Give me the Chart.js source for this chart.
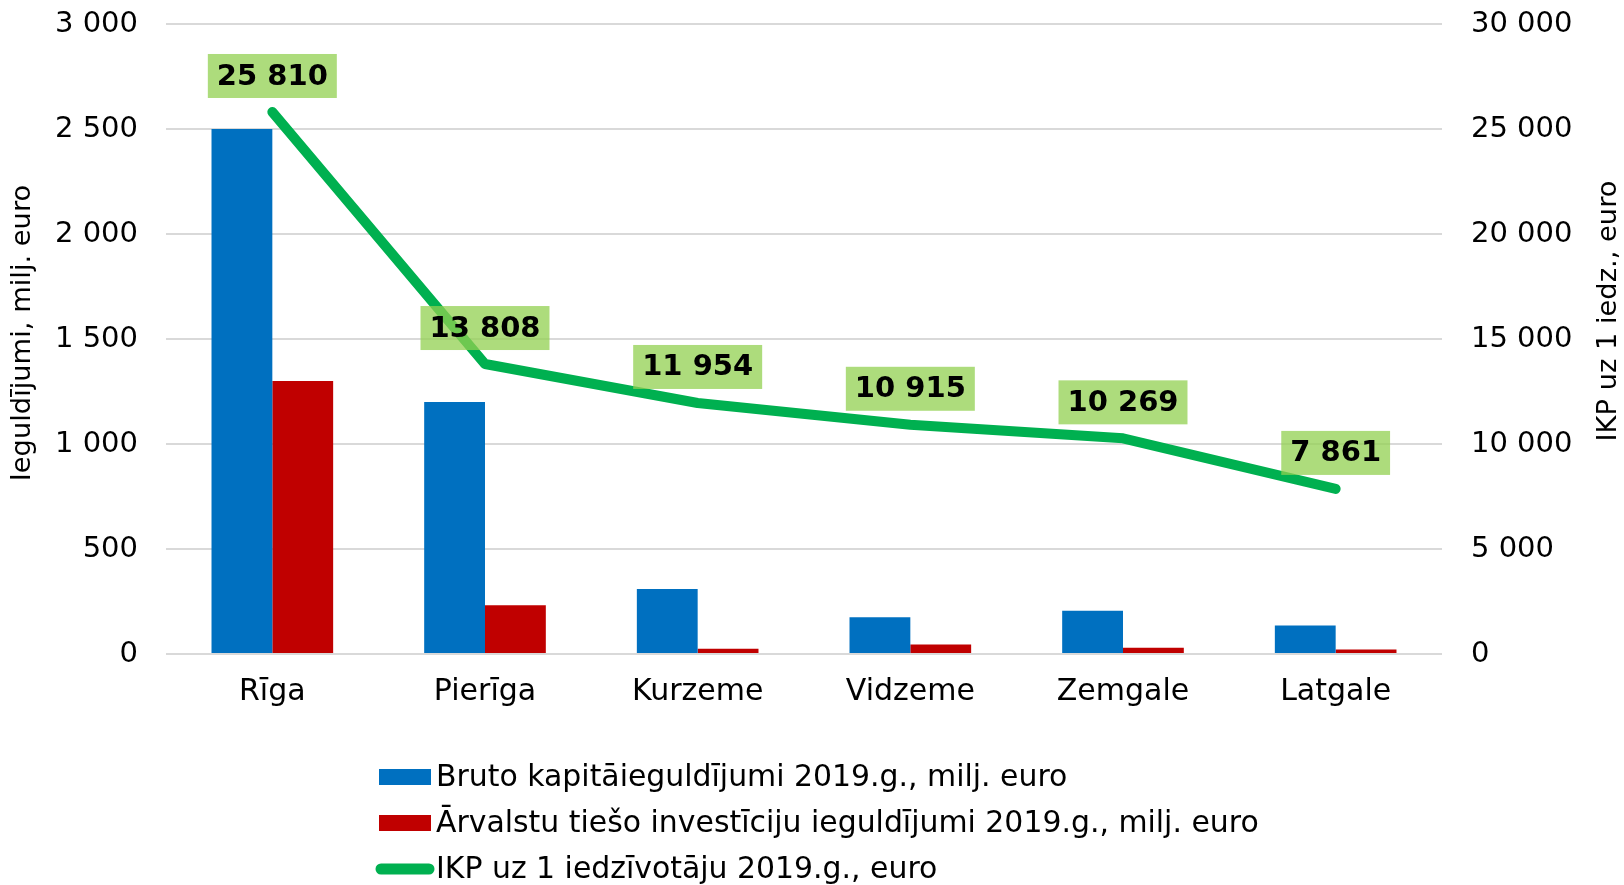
<!DOCTYPE html>
<html><head><meta charset="utf-8">
<script src="https://cdn.jsdelivr.net/npm/chart.js@4.4.0/dist/chart.umd.min.js"></script>
<style>html,body{margin:0;padding:0;background:#fff;overflow:hidden}#wrap{width:1624px;height:885px;position:relative}</style>
</head><body><div id="wrap"><canvas id="c" width="1624" height="885"></canvas></div>
<script>
const categories = ['Rīga', 'Pierīga', 'Kurzeme', 'Vidzeme', 'Zemgale', 'Latgale'];
const grossInvestment = [2500, 1200, 310, 175, 206, 136];
const fdiInvestment = [1300, 232, 25, 45, 30, 21];
const gdpPerCapita = [25810, 13808, 11954, 10915, 10269, 7861];
const leftTickValues = [0, 500, 1000, 1500, 2000, 2500, 3000];
const rightTickValues = [0, 5000, 10000, 15000, 20000, 25000, 30000];
const seriesNames = [
  'Bruto kapitāieguldījumi 2019.g., milj. euro',
  'Ārvalstu tiešo investīciju ieguldījumi 2019.g., milj. euro',
  'IKP uz 1 iedzīvotāju 2019.g., euro'
];
const leftTitle = 'Ieguldījumi, milj. euro';
const rightTitle = 'IKP uz 1 iedz., euro';

const FONT = '"DejaVu Sans", Verdana, sans-serif';
const fmt = v => Math.round(v).toString().replace(/\B(?=(\d{3})+(?!\d))/g, ' ');

const labelPlugin = {
  id: 'extras',
  afterDatasetsDraw(chart) {
    const ctx = chart.ctx;
    const meta = chart.getDatasetMeta(0);
    ctx.save();
    ctx.font = 'bold 29px ' + FONT;
    ctx.textAlign = 'center';
    ctx.textBaseline = 'middle';
    meta.data.forEach((pt, i) => {
      const txt = fmt(chart.data.datasets[0].data[i]);
      const w = ctx.measureText(txt).width + 18;
      const h = 44;
      const bx = pt.x - w / 2;
      const by = pt.y - 14 - h;
      ctx.fillStyle = 'rgba(146,208,80,0.75)';
      ctx.fillRect(bx, by, w, h);
      ctx.fillStyle = '#000';
      ctx.fillText(txt, pt.x, by + h / 2 + 1);
    });
    ctx.restore();
  },
  afterDraw(chart) {
    const ctx = chart.ctx;
    ctx.save();
    ctx.fillStyle = '#000';
    ctx.font = '27.3px ' + FONT;
    ctx.textAlign = 'center';
    ctx.textBaseline = 'middle';
    ctx.save();
    ctx.translate(23, 333);
    ctx.rotate(-Math.PI / 2);
    ctx.fillText(leftTitle, 0, 0);
    ctx.restore();
    ctx.save();
    ctx.translate(1609, 311);
    ctx.rotate(-Math.PI / 2);
    ctx.fillText(rightTitle, 0, 0);
    ctx.restore();
    const ys = [777, 823, 869];
    const order = [1, 2, 0];
    ctx.font = '29.9px ' + FONT;
    ctx.textAlign = 'left';
    order.forEach((di, k) => {
      const ds = chart.data.datasets[di];
      const y = ys[k];
      if (ds.type === 'line') {
        ctx.strokeStyle = ds.borderColor;
        ctx.lineWidth = 11;
        ctx.lineCap = 'round';
        ctx.beginPath();
        ctx.moveTo(381, y);
        ctx.lineTo(429, y);
        ctx.stroke();
      } else {
        ctx.fillStyle = ds.backgroundColor;
        ctx.fillRect(379, y - 8, 52, 16);
      }
      ctx.fillStyle = '#000';
      ctx.fillText(ds.label, 436, y + 1);
    });
    ctx.restore();
  }
};

const fixPad = s => { s.paddingTop = 0; s.paddingBottom = 0; };

new Chart(document.getElementById('c'), {
  data: {
    labels: categories,
    datasets: [
      { type: 'line', label: seriesNames[2], data: gdpPerCapita, yAxisID: 'y1',
        borderColor: '#00B050', backgroundColor: '#00B050', borderWidth: 10,
        pointRadius: 0, pointHoverRadius: 0, borderCapStyle: 'round', borderJoinStyle: 'round',
        tension: 0, order: 0 },
      { type: 'bar', label: seriesNames[0], data: grossInvestment, yAxisID: 'y',
        backgroundColor: '#0070C0', categoryPercentage: 0.572, barPercentage: 1, order: 1 },
      { type: 'bar', label: seriesNames[1], data: fdiInvestment, yAxisID: 'y',
        backgroundColor: '#C00000', categoryPercentage: 0.572, barPercentage: 1, order: 1 }
    ]
  },
  options: {
    responsive: false,
    animation: false,
    devicePixelRatio: 1,
    layout: { padding: { top: 24, left: 0, right: 0, bottom: 0 } },
    plugins: { legend: { display: false }, tooltip: { enabled: false } },
    scales: {
      x: {
        grid: { display: false, drawTicks: false },
        border: { display: false },
        ticks: { font: { family: FONT, size: 30 }, color: '#000', padding: 20 },
        afterFit: s => { s.height = 231; s.paddingLeft = 0; s.paddingRight = 0; }
      },
      y: {
        position: 'left', min: 0, max: 3000,
        afterBuildTicks: s => { s.ticks = leftTickValues.map(v => ({ value: v })); },
        ticks: { font: { family: FONT, size: 29 }, color: '#000', padding: 28, callback: v => fmt(v) },
        grid: { color: '#d9d9d9', lineWidth: 2, drawTicks: false },
        border: { display: false },
        afterFit: s => { s.width = 166; fixPad(s); }
      },
      y1: {
        position: 'right', min: 0, max: 30000,
        afterBuildTicks: s => { s.ticks = rightTickValues.map(v => ({ value: v })); },
        ticks: { font: { family: FONT, size: 29 }, color: '#000', padding: 29, callback: v => fmt(v) },
        grid: { display: false, drawTicks: false },
        border: { display: false },
        afterFit: s => { s.width = 182; fixPad(s); }
      }
    }
  },
  plugins: [labelPlugin]
});
</script></body></html>
